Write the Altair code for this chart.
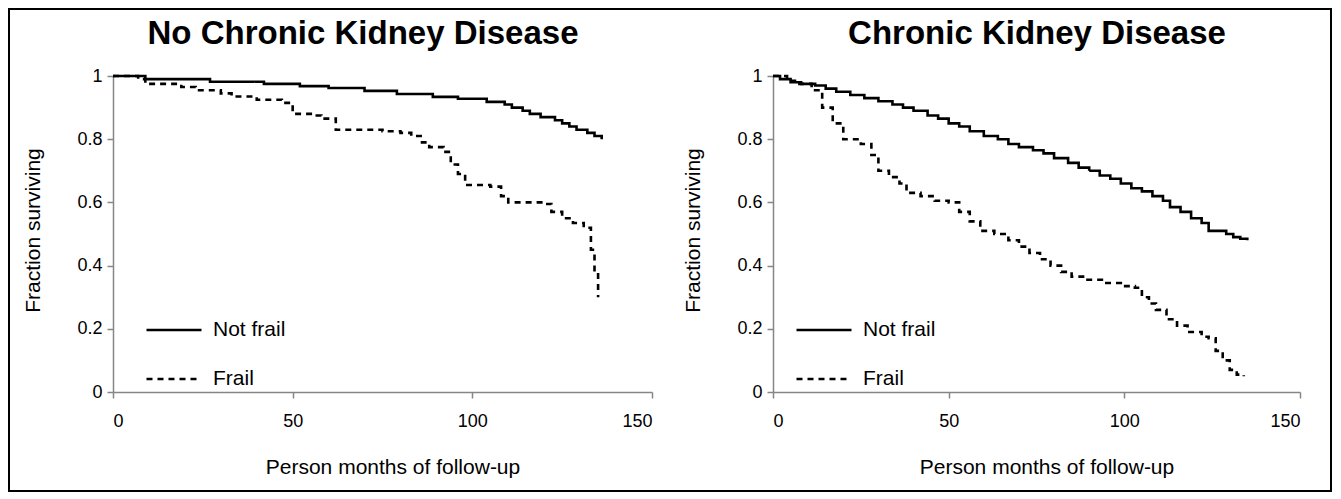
import altair as alt
import pandas as pd

series = ["Not frail", "Frail"]
panel_titles = ["No Chronic Kidney Disease", "Chronic Kidney Disease"]

# No CKD panel
ncd_notfrail_t = [0, 9, 27, 42, 52, 60, 70, 79, 89, 96, 104, 109, 111, 114, 116, 119, 123, 125, 127, 129, 132, 134, 136]
ncd_notfrail_s = [1.0, 0.99, 0.982, 0.975, 0.968, 0.962, 0.953, 0.943, 0.934, 0.928, 0.918, 0.91, 0.90, 0.89, 0.88, 0.87, 0.86, 0.85, 0.84, 0.83, 0.82, 0.81, 0.80]
ncd_frail_t = [0, 7, 9, 19, 23, 30, 33, 40, 47, 50, 56, 58, 62, 75, 80, 83, 86, 88, 92, 94, 96, 98, 105, 108, 110, 120, 122, 125, 128, 131, 133, 134, 135]
ncd_frail_s = [1.0, 0.99, 0.975, 0.965, 0.955, 0.945, 0.935, 0.925, 0.915, 0.88, 0.875, 0.865, 0.83, 0.825, 0.82, 0.81, 0.79, 0.775, 0.76, 0.72, 0.69, 0.655, 0.65, 0.62, 0.60, 0.595, 0.57, 0.55, 0.535, 0.52, 0.45, 0.38, 0.30]

# CKD panel
ckd_notfrail_t = [0, 2, 5, 8, 12, 15, 18, 22, 26, 30, 34, 37, 40, 44, 47, 50, 53, 56, 60, 64, 67, 70, 74, 77, 80, 84, 87, 90, 93, 96, 99, 102, 105, 108, 111, 113, 116, 119, 122, 124, 127, 129, 131, 133, 135]
ckd_notfrail_s = [1.0, 0.99, 0.98, 0.975, 0.97, 0.96, 0.95, 0.94, 0.93, 0.92, 0.91, 0.90, 0.89, 0.875, 0.865, 0.85, 0.84, 0.825, 0.81, 0.80, 0.785, 0.775, 0.765, 0.755, 0.74, 0.725, 0.71, 0.70, 0.685, 0.675, 0.66, 0.645, 0.635, 0.62, 0.605, 0.585, 0.57, 0.55, 0.535, 0.51, 0.51, 0.50, 0.49, 0.485, 0.48]
ckd_frail_t = [0, 4, 7, 11, 14, 17, 20, 25, 28, 30, 33, 36, 38, 42, 46, 50, 53, 56, 59, 63, 67, 70, 73, 76, 79, 82, 85, 89, 94, 99, 103, 105, 107, 109, 112, 115, 118, 122, 124, 126, 128, 130, 132, 134]
ckd_frail_s = [1.0, 0.985, 0.975, 0.955, 0.90, 0.85, 0.80, 0.785, 0.75, 0.70, 0.68, 0.66, 0.63, 0.62, 0.605, 0.60, 0.57, 0.54, 0.51, 0.50, 0.48, 0.46, 0.44, 0.42, 0.40, 0.38, 0.365, 0.355, 0.345, 0.335, 0.33, 0.30, 0.28, 0.26, 0.23, 0.21, 0.19, 0.175, 0.17, 0.13, 0.10, 0.07, 0.055, 0.05]

FONT = "Liberation Sans"


def frame_df(t1, s1, t2, s2):
    a = pd.DataFrame({"t": t1, "s": s1, "group": series[0]})
    b = pd.DataFrame({"t": t2, "s": s2, "group": series[1]})
    return pd.concat([a, b], ignore_index=True)


def panel(df, title, width, height, title_x, legend_x, border=False):
    lines = alt.Chart(df).mark_line(
        interpolate="step-after", color="black", strokeWidth=2.6
    ).encode(
        x=alt.X("t:Q", scale=alt.Scale(domain=[0, 150], nice=False),
                axis=alt.Axis(values=[0, 50, 100, 150], title="Person months of follow-up",
                              titleX=width / 2 + 10, titleY=75, titleAlign="center",
                              titleBaseline="middle", labelPadding=14)),
        y=alt.Y("s:Q", scale=alt.Scale(domain=[0, 1], nice=False),
                axis=alt.Axis(values=[0, 0.2, 0.4, 0.6, 0.8, 1], format="~g",
                              title="Fraction surviving", titleX=-80, titleY=height / 2 - 4,
                              titleAngle=-90, titleAlign="center", titleBaseline="middle",
                              labelPadding=5)),
        strokeDash=alt.StrokeDash(
            "group:N",
            scale=alt.Scale(domain=series, range=[[1, 0], [6, 5]]),
            sort=series,
            legend=alt.Legend(orient="none", legendX=legend_x, legendY=225, title=None,
                              symbolType="stroke", symbolSize=3025, symbolStrokeWidth=2.6,
                              symbolStrokeColor="black", labelFontSize=21, labelFont=FONT,
                              labelColor="black", labelOffset=10, rowPadding=10,
                              labelLimit=300),
        ),
        detail="group:N",
    )
    head = alt.Chart(pd.DataFrame({"label": [title]})).mark_text(
        font=FONT, fontSize=33, fontWeight="bold", color="black",
        align="center", baseline="alphabetic"
    ).encode(text="label:N", x=alt.value(title_x), y=alt.value(-32))
    layers = [lines, head]
    if border:
        box = alt.Chart(pd.DataFrame({"k": [0]})).mark_rect(
            filled=False, stroke="black", strokeWidth=2
        ).encode(
            x=alt.value(-104), x2=alt.value(1218), y=alt.value(-67), y2=alt.value(415)
        )
        layers = [box] + layers
    return alt.layer(*layers).properties(width=width, height=height)


left = panel(frame_df(ncd_notfrail_t, ncd_notfrail_s, ncd_frail_t, ncd_frail_s),
             panel_titles[0], 539, 316, 250, 32, border=True)
right = panel(frame_df(ckd_notfrail_t, ckd_notfrail_s, ckd_frail_t, ckd_frail_s),
              panel_titles[1], 527, 316, 264, 22)

chart = alt.hconcat(left, right, spacing=121, bounds="flush").resolve_scale(
    strokeDash="independent"
).resolve_legend(strokeDash="independent").properties(
    padding=0, background="white"
).configure_view(stroke=None).configure_axis(
    grid=False, domainColor="#868686", tickColor="#868686", domainWidth=1.5,
    tickWidth=1.5, tickSize=6, labelFont=FONT, labelFontSize=18, labelColor="black",
    titleFont=FONT, titleFontSize=21, titleFontWeight="normal", titleColor="black"
)

chart.save("out.html", embed_options={"renderer": "svg", "actions": False})
